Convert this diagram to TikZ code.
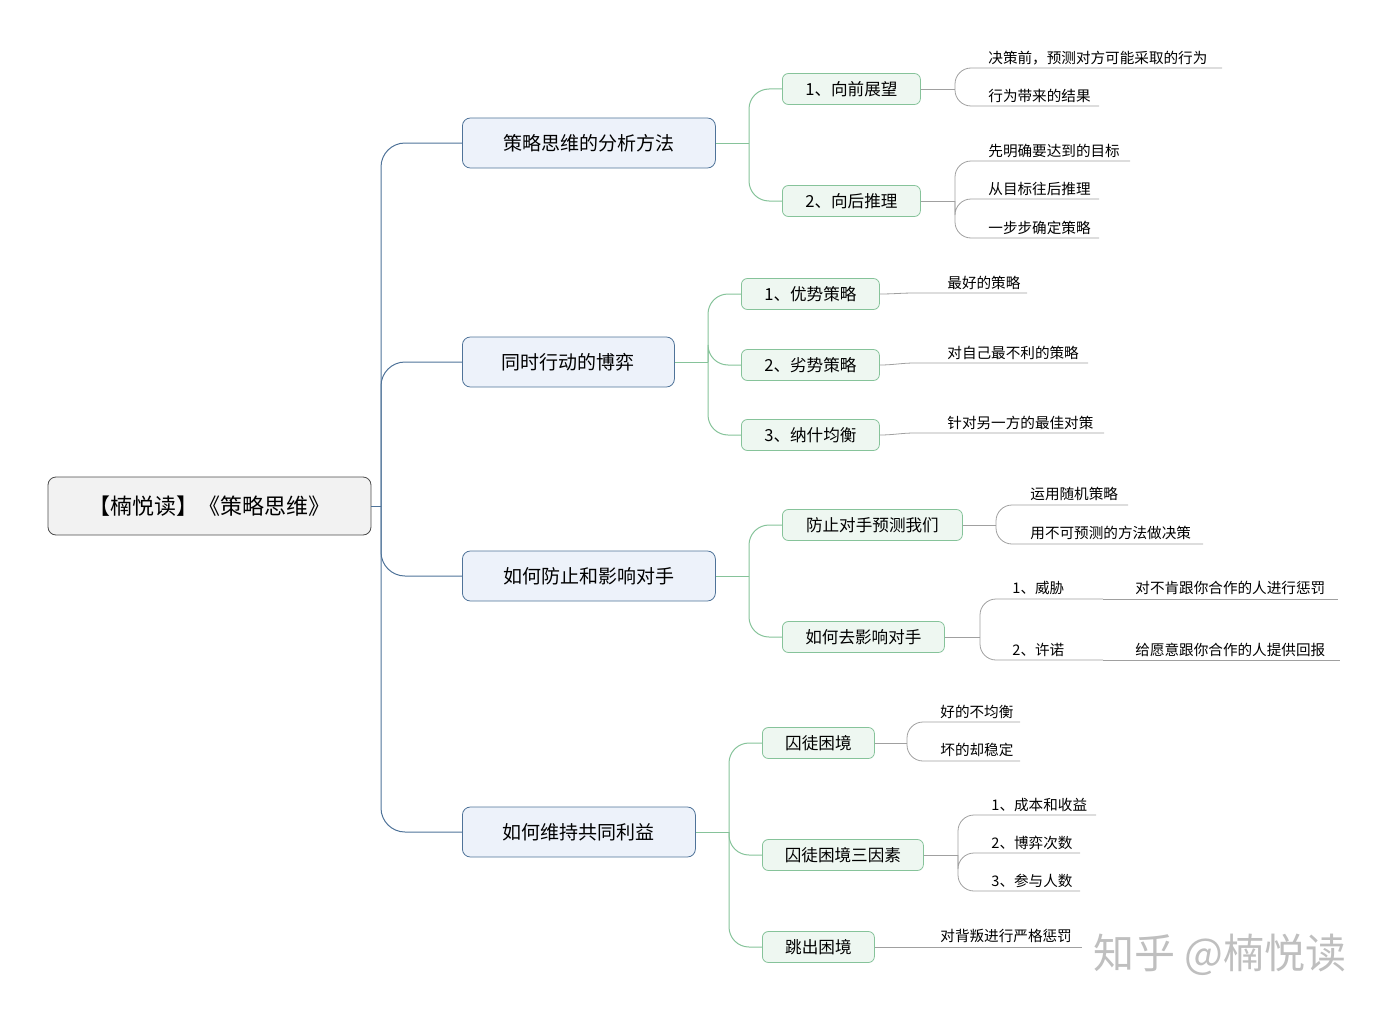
\documentclass[tikz,border=0pt]{standalone}
\usepackage{fontspec}
\setmainfont{Noto Sans CJK SC}
\definecolor{bline}{HTML}{4F7399}
\definecolor{bfill}{HTML}{EDF2FA}
\definecolor{gline}{HTML}{86C39A}
\definecolor{gfill}{HTML}{EEF7F1}
\definecolor{lline}{HTML}{A0A0A0}
\begin{document}
\begin{tikzpicture}[x=0.5pt,y=-0.5pt,
  root/.style={draw=black!70,fill=black!5,rounded corners=4pt,minimum height=29pt,font=\fontsize{11}{13}\selectfont,inner sep=0pt},
  lone/.style={draw=bline,fill=bfill,rounded corners=4pt,minimum height=25pt,font=\fontsize{9.5}{12}\selectfont,inner sep=0pt,anchor=west},
  ltwo/.style={draw=gline,fill=gfill,rounded corners=3pt,minimum height=15.5pt,font=\fontsize{8.3}{10}\selectfont,inner sep=0pt,anchor=west},
  leaf/.style={anchor=west,font=\fontsize{7.3}{9}\selectfont,inner sep=0pt},
  blink/.style={draw=bline,rounded corners=12pt,line width=0.5pt},
  glink/.style={draw=gline,rounded corners=10pt,line width=0.5pt},
  llink/.style={draw=lline,rounded corners=8pt,line width=0.4pt}]
\useasboundingbox (0,0) rectangle (1386,1011);
\node[root,minimum width=161.5pt] (R) at (209.5,506) {【楠悦读】《策略思维》};
\node[lone,minimum width=126.5pt] (A) at (462,143) {策略思维的分析方法};
\node[lone,minimum width=106pt] (B) at (462,362) {同时行动的博弈};
\node[lone,minimum width=126.5pt] (C) at (462,576) {如何防止和影响对手};
\node[lone,minimum width=116.5pt] (D) at (462,832) {如何维持共同利益};
\coordinate (rj) at (381,506);
\draw[blink] (R.east) -- (rj);
\foreach \n in {A,B,C,D} \draw[blink] (rj) |- (\n.west);
% level 2
\node[ltwo,minimum width=69pt] (A1) at (782,89) {1、向前展望};
\node[ltwo,minimum width=69pt] (A2) at (782,201) {2、向后推理};
\node[ltwo,minimum width=69pt] (B1) at (741,294) {1、优势策略};
\node[ltwo,minimum width=69pt] (B2) at (741,365) {2、劣势策略};
\node[ltwo,minimum width=69pt] (B3) at (741,435) {3、纳什均衡};
\node[ltwo,minimum width=90pt] (C1) at (782,525) {防止对手预测我们};
\node[ltwo,minimum width=81pt] (C2) at (782,637) {如何去影响对手};
\node[ltwo,minimum width=56pt] (D1) at (762,743) {囚徒困境};
\node[ltwo,minimum width=80.5pt] (D2) at (762,855) {囚徒困境三因素};
\node[ltwo,minimum width=56pt] (D3) at (762,947) {跳出困境};
\coordinate (aj) at (749,143); \coordinate (bj) at (708,362);
\coordinate (cj) at (749,576); \coordinate (dj) at (729,832);
\draw[glink] (A.east) -- (aj); \draw[glink] (B.east) -- (bj);
\draw[glink] (C.east) -- (cj); \draw[glink] (D.east) -- (dj);
\foreach \n in {A1,A2} \draw[glink] (aj) |- (\n.west);
\foreach \n in {B1,B2,B3} \draw[glink] (bj) |- (\n.west);
\foreach \n in {C1,C2} \draw[glink] (cj) |- (\n.west);
\foreach \n in {D1,D2,D3} \draw[glink] (dj) |- (\n.west);
% leaves
\node[leaf] (a11) at (988,58) {决策前，预测对方可能采取的行为}; \coordinate (a11e) at (1222,68);
\node[leaf] (a12) at (988,96) {行为带来的结果}; \coordinate (a12e) at (1099,106);
\coordinate (a1j) at (955,89); \draw[llink] (A1.east) -- (a1j);
\draw[llink] (a1j) |- (a11e); \draw[llink] (a1j) |- (a12e);
\node[leaf] (a21) at (988,151) {先明确要达到的目标}; \coordinate (a21e) at (1130,161);
\node[leaf] (a22) at (988,189) {从目标往后推理}; \coordinate (a22e) at (1099,199);
\node[leaf] (a23) at (988,228) {一步步确定策略}; \coordinate (a23e) at (1099,238);
\coordinate (a2j) at (955,201); \draw[llink] (A2.east) -- (a2j);
\foreach \n in {a21e,a22e,a23e} \draw[llink] (a2j) |- (\n);
\node[leaf] (b1) at (947,283) {最好的策略}; \coordinate (b1e) at (1027,293);
\node[leaf] (b2) at (947,353) {对自己最不利的策略}; \coordinate (b2e) at (1088,363);
\node[leaf] (b3) at (947,423) {针对另一方的最佳对策}; \coordinate (b3e) at (1104,433);
\draw[llink,rounded corners=0pt] (B1.east) to[out=0,in=180] (915,293) -- (b1e);
\draw[llink,rounded corners=0pt] (B2.east) to[out=0,in=180] (915,363) -- (b2e);
\draw[llink,rounded corners=0pt] (B3.east) to[out=0,in=180] (915,433) -- (b3e);
\node[leaf] (c11) at (1030,494) {运用随机策略}; \coordinate (c11e) at (1128,505);
\node[leaf] (c12) at (1030,533) {用不可预测的方法做决策}; \coordinate (c12e) at (1203,544);
\coordinate (c1j) at (996,525); \draw[llink] (C1.east) -- (c1j);
\foreach \n in {c11e,c12e} \draw[llink] (c1j) |- (\n);
\node[leaf] (c21) at (1012,588) {1、威胁}; \coordinate (c21e) at (1103,599);
\node[leaf] (c22) at (1012,650) {2、许诺}; \coordinate (c22e) at (1103,660);
\coordinate (c2j) at (980,637); \draw[llink] (C2.east) -- (c2j);
\foreach \n in {c21e,c22e} \draw[llink] (c2j) |- (\n);
\node[leaf] (c211) at (1135,588) {对不肯跟你合作的人进行惩罚}; \coordinate (c211e) at (1338,599);
\node[leaf] (c221) at (1135,650) {给愿意跟你合作的人提供回报}; \coordinate (c221e) at (1340,660);
\draw[llink] (c21e) -- (c211e); \draw[llink] (c22e) -- (c221e);
\node[leaf] (d11) at (940,712) {好的不均衡}; \coordinate (d11e) at (1020,722);
\node[leaf] (d12) at (940,750) {坏的却稳定}; \coordinate (d12e) at (1020,761);
\coordinate (d1j) at (907,743); \draw[llink] (D1.east) -- (d1j);
\foreach \n in {d11e,d12e} \draw[llink] (d1j) |- (\n);
\node[leaf] (d21) at (991,805) {1、成本和收益}; \coordinate (d21e) at (1096,815);
\node[leaf] (d22) at (991,843) {2、博弈次数}; \coordinate (d22e) at (1080,853);
\node[leaf] (d23) at (991,881) {3、参与人数}; \coordinate (d23e) at (1080,891);
\coordinate (d2j) at (958,855); \draw[llink] (D2.east) -- (d2j);
\foreach \n in {d21e,d22e,d23e} \draw[llink] (d2j) |- (\n);
\node[leaf] (d31) at (940,936) {对背叛进行严格惩罚}; \coordinate (d31e) at (1082,947);
\draw[llink,rounded corners=0pt] (D3.east) to[out=0,in=180] (910,947) -- (d31e);
\node[anchor=west,text=gray!50,font=\fontsize{20.5}{24}\selectfont,inner sep=0pt] (wm) at (1093,955) {知乎 @楠悦读};
\end{tikzpicture}
\end{document}
